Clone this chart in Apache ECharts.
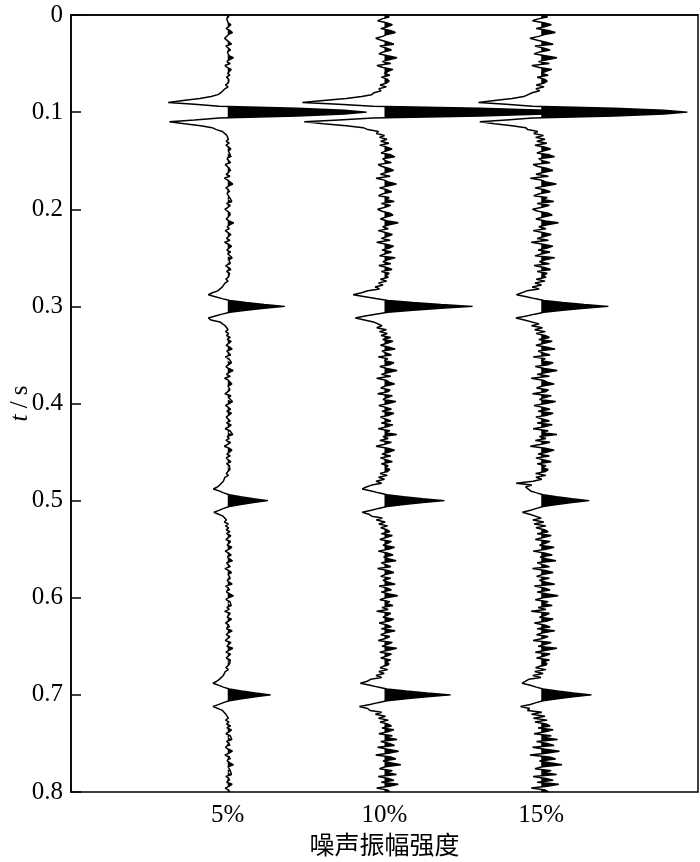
<!DOCTYPE html>
<html><head><meta charset="utf-8">
<script src="https://cdn.jsdelivr.net/npm/echarts@6/dist/echarts.min.js"></script>
<style>html,body{margin:0;padding:0;background:#fff}#c{width:700px;height:862px}</style>
</head><body><div id="c"></div>
<script>
// sample interval of the traces (s)
const sampleInterval = 0.002;
// trace baselines on the x axis (noise level, %)
const traceOffsets = [5, 10, 15];
const xTickLabels = ['5%', '10%', '15%'];

// trace amplitudes (x-axis units), one value per sample from t = 0 to 0.8 s
const trace5 = [
0.02,0.06,-0.03,-0.08,0.01,0.10,0.04,-0.05,0.07,0.15,
0.03,-0.02,-0.10,-0.04,0.05,0.12,-0.06,0.02,0.09,-0.01,
-0.07,0.04,0.18,0.06,-0.03,0.08,-0.09,-0.02,0.11,0.05,
0.00,0.07,-0.04,0.03,0.06,0.02,-0.07,0.01,-0.09,-0.10,
-0.22,-0.31,-0.53,-0.89,-1.42,-1.90,-1.06,-0.27,2.22,3.72,
4.43,3.72,2.22,-0.27,-1.06,-1.86,-1.38,-0.86,-0.50,-0.36,
-0.17,-0.15,-0.03,-0.08,0.02,-0.05,0.05,-0.06,0.03,0.10,
0.02,-0.04,0.08,0.14,-0.02,0.01,0.09,-0.08,-0.03,0.06,
0.12,0.03,-0.05,0.07,-0.11,0.00,0.05,0.16,0.04,-0.06,
0.03,0.09,-0.02,-0.07,0.06,0.02,0.13,-0.04,0.08,0.01,
-0.09,-0.03,0.07,0.11,0.02,-0.05,0.04,0.19,0.06,-0.02,
0.05,-0.08,0.01,0.10,0.03,-0.04,0.07,-0.10,0.02,0.12,
0.06,-0.03,0.09,0.00,-0.06,0.14,0.04,-0.02,0.08,-0.07,
0.03,0.10,-0.04,0.06,0.02,0.02,-0.06,0.01,-0.09,-0.06,
-0.17,-0.13,-0.32,-0.49,-0.62,-0.40,-0.18,0.07,0.58,1.16,
1.82,1.16,0.58,0.07,-0.18,-0.40,-0.62,-0.54,-0.25,-0.23,
-0.08,-0.13,0.01,-0.07,0.03,-0.04,0.08,-0.02,0.11,0.03,
-0.05,0.06,0.14,-0.03,0.02,0.09,-0.08,0.04,0.00,0.12,
0.07,-0.06,0.03,0.17,0.05,-0.04,0.08,-0.10,0.02,0.06,
0.13,0.01,-0.05,0.07,0.04,-0.09,0.10,0.03,-0.02,0.15,
0.05,-0.07,0.02,0.09,-0.03,0.12,0.06,-0.05,0.01,0.08,
-0.04,0.11,0.03,-0.08,0.07,0.02,0.16,-0.02,0.05,-0.06,
0.09,0.00,-0.11,0.04,0.13,0.06,-0.03,0.08,-0.05,0.02,
0.10,-0.04,0.05,0.01,0.07,0.03,-0.05,0.02,-0.09,-0.03,
-0.14,-0.09,-0.26,-0.33,-0.46,-0.28,-0.13,0.05,0.41,0.82,
1.28,0.82,0.41,0.05,-0.13,-0.28,-0.44,-0.40,-0.15,-0.17,
-0.04,-0.11,0.02,-0.07,0.03,-0.05,0.07,-0.04,0.10,0.02,
-0.06,0.09,0.04,-0.02,0.13,0.05,-0.08,0.03,0.11,-0.01,
0.06,0.15,-0.04,0.02,0.08,-0.09,0.04,0.12,0.01,-0.05,
0.08,-0.02,0.05,0.14,-0.07,0.03,0.09,-0.04,0.06,0.18,
0.02,-0.06,0.07,0.01,0.11,-0.03,0.05,-0.10,0.08,0.04,
-0.02,0.12,0.06,-0.07,0.03,0.09,-0.04,0.14,0.02,-0.05,
0.07,0.01,-0.08,0.10,0.04,-0.03,0.16,0.05,-0.06,0.09,
0.03,-0.05,0.08,0.02,0.06,0.04,-0.06,0.02,-0.08,-0.03,
-0.14,-0.09,-0.27,-0.35,-0.47,-0.30,-0.14,0.05,0.44,0.88,
1.37,0.88,0.44,0.05,-0.14,-0.30,-0.47,-0.42,-0.17,-0.19,
-0.06,-0.12,0.02,-0.07,0.04,-0.04,0.09,-0.03,0.12,0.04,
-0.06,0.08,0.02,0.13,-0.04,0.05,0.10,-0.07,0.03,0.15,
0.04,-0.09,0.06,0.11,-0.02,0.07,0.18,0.01,-0.05,0.08,
0.02,0.12,-0.06,0.04,0.09,-0.03,0.14,0.05,-0.08,0.03,
0.06];

const trace10 = [
0.04,0.15,-0.08,-0.22,0.06,0.25,0.10,-0.12,0.18,0.35,
0.08,-0.06,-0.28,-0.10,0.12,0.30,-0.15,0.05,0.22,-0.04,
-0.18,0.10,0.40,0.14,-0.07,0.20,-0.24,-0.05,0.27,0.12,
0.00,0.17,-0.10,0.08,0.15,0.07,-0.14,0.06,-0.18,-0.11,
-0.33,-0.41,-0.73,-1.22,-1.95,-2.62,-1.46,-0.37,3.05,5.12,
6.10,5.12,3.05,-0.37,-1.46,-2.56,-1.95,-1.22,-0.68,-0.53,
-0.19,-0.26,0.00,-0.16,0.08,-0.12,0.14,-0.15,0.07,0.24,
0.05,-0.11,0.20,0.33,-0.06,0.03,0.22,-0.20,-0.08,0.15,
0.29,0.07,-0.13,0.18,-0.27,0.00,0.12,0.38,0.10,-0.16,
0.08,0.23,-0.05,-0.19,0.15,0.05,0.31,-0.10,0.20,0.02,
-0.22,-0.08,0.17,0.27,0.05,-0.13,0.10,0.44,0.15,-0.06,
0.12,-0.20,0.03,0.25,0.08,-0.10,0.18,-0.25,0.05,0.29,
0.15,-0.08,0.22,0.00,-0.16,0.34,0.10,-0.05,0.20,-0.18,
0.07,0.24,-0.10,0.15,0.05,0.12,-0.13,0.07,-0.19,-0.05,
-0.30,-0.16,-0.53,-0.73,-1.00,-0.62,-0.28,0.11,0.90,1.80,
2.81,1.80,0.90,0.11,-0.28,-0.62,-0.93,-0.87,-0.35,-0.40,
-0.08,-0.25,0.06,-0.16,0.09,-0.11,0.20,-0.06,0.27,0.08,
-0.13,0.15,0.34,-0.08,0.05,0.22,-0.20,0.10,0.00,0.30,
0.17,-0.15,0.08,0.40,0.12,-0.10,0.20,-0.25,0.05,0.15,
0.32,0.03,-0.12,0.18,0.10,-0.22,0.25,0.07,-0.05,0.36,
0.12,-0.18,0.05,0.22,-0.08,0.30,0.15,-0.13,0.03,0.20,
-0.10,0.27,0.08,-0.20,0.17,0.05,0.39,-0.05,0.12,-0.15,
0.22,0.00,-0.27,0.10,0.32,0.15,-0.08,0.20,-0.13,0.05,
0.25,-0.10,0.12,0.03,0.17,0.10,-0.14,0.09,-0.19,0.00,
-0.27,-0.09,-0.41,-0.58,-0.71,-0.42,-0.19,0.08,0.61,1.22,
1.91,1.22,0.61,0.08,-0.19,-0.42,-0.71,-0.50,-0.41,-0.07,
-0.26,0.02,-0.18,0.10,-0.12,0.08,0.17,-0.10,0.25,0.05,
-0.15,0.22,0.10,-0.05,0.32,0.12,-0.20,0.08,0.27,-0.03,
0.15,0.37,-0.10,0.05,0.20,-0.22,0.10,0.30,0.03,-0.12,
0.20,-0.05,0.12,0.34,-0.17,0.08,0.22,-0.10,0.15,0.42,
0.05,-0.15,0.17,0.03,0.27,-0.08,0.12,-0.25,0.20,0.10,
-0.05,0.30,0.15,-0.17,0.08,0.22,-0.10,0.34,0.05,-0.12,
0.17,0.03,-0.20,0.25,0.10,-0.08,0.39,0.12,-0.15,0.22,
0.08,-0.12,0.20,0.05,0.15,0.12,-0.14,0.10,-0.18,-0.01,
-0.27,-0.09,-0.44,-0.55,-0.77,-0.46,-0.21,0.08,0.68,1.35,
2.11,1.35,0.68,0.08,-0.21,-0.46,-0.80,-0.54,-0.46,-0.09,
-0.29,0.03,-0.19,0.12,-0.14,0.10,0.22,-0.08,0.30,0.10,
-0.18,0.25,0.05,0.40,-0.12,0.15,0.32,-0.22,0.10,0.45,
0.12,-0.28,0.20,0.36,-0.05,0.22,0.52,0.03,-0.16,0.25,
0.05,0.38,-0.20,0.12,0.30,-0.10,0.44,0.15,-0.25,0.10,
0.18];

const trace15 = [
0.05,0.20,-0.10,-0.28,0.08,0.32,0.12,-0.16,0.23,0.45,
0.10,-0.08,-0.36,-0.12,0.15,0.38,-0.20,0.06,0.28,-0.05,
-0.23,0.13,0.50,0.18,-0.09,0.26,-0.30,-0.06,0.34,0.15,
0.00,0.22,-0.13,0.10,0.19,0.10,-0.16,0.09,-0.17,-0.05,
-0.29,-0.29,-0.56,-0.93,-1.49,-2.00,-1.12,-0.28,2.33,3.91,
4.66,3.91,2.33,-0.28,-1.12,-1.96,-1.49,-0.93,-0.50,-0.43,
-0.11,-0.24,0.07,-0.18,0.12,-0.14,0.18,-0.20,0.09,0.30,
0.06,-0.14,0.26,0.42,-0.08,0.04,0.28,-0.26,-0.10,0.19,
0.37,0.09,-0.17,0.23,-0.35,0.00,0.15,0.48,0.13,-0.20,
0.10,0.29,-0.06,-0.24,0.19,0.06,0.40,-0.13,0.26,0.03,
-0.28,-0.10,0.22,0.35,0.06,-0.17,0.13,0.55,0.19,-0.08,
0.15,-0.26,0.04,0.32,0.10,-0.13,0.23,-0.32,0.06,0.37,
0.19,-0.10,0.28,0.00,-0.20,0.43,0.13,-0.06,0.26,-0.23,
0.09,0.30,-0.13,0.19,0.06,0.15,-0.16,0.12,-0.20,0.01,
-0.29,-0.07,-0.46,-0.52,-0.79,-0.47,-0.21,0.09,0.68,1.37,
2.14,1.37,0.68,0.09,-0.21,-0.47,-0.81,-0.54,-0.48,-0.07,
-0.31,0.04,-0.21,0.13,-0.16,0.12,0.26,-0.08,0.35,0.10,
-0.17,0.19,0.44,-0.10,0.06,0.28,-0.26,0.13,0.00,0.38,
0.22,-0.19,0.10,0.51,0.15,-0.13,0.26,-0.32,0.06,0.19,
0.41,0.04,-0.15,0.23,0.13,-0.28,0.32,0.09,-0.06,0.46,
0.15,-0.23,0.06,0.28,-0.10,0.38,0.19,-0.17,0.04,0.26,
-0.13,0.35,0.10,-0.26,0.22,0.06,0.50,-0.06,0.15,-0.19,
0.28,0.00,-0.35,0.13,0.41,0.19,-0.10,0.26,-0.17,0.06,
0.32,-0.13,0.15,0.04,0.22,0.14,-0.18,0.15,-0.17,0.02,
-0.26,-0.80,-0.30,-0.50,-0.55,-0.34,-0.15,0.06,0.49,0.98,
1.53,0.98,0.49,0.06,-0.15,-0.34,-0.60,-0.37,-0.40,0.00,
-0.27,0.08,-0.23,0.15,-0.17,0.10,0.22,-0.13,0.32,0.06,
-0.19,0.28,0.13,-0.06,0.41,0.15,-0.26,0.10,0.35,-0.04,
0.19,0.47,-0.13,0.06,0.26,-0.28,0.13,0.38,0.04,-0.15,
0.26,-0.06,0.15,0.43,-0.22,0.10,0.28,-0.13,0.19,0.54,
0.06,-0.19,0.22,0.04,0.35,-0.10,0.15,-0.32,0.26,0.13,
-0.06,0.38,0.19,-0.22,0.10,0.28,-0.13,0.43,0.06,-0.15,
0.22,0.04,-0.26,0.32,0.13,-0.10,0.50,0.15,-0.19,0.28,
0.10,-0.15,0.26,0.06,0.19,0.16,-0.18,0.15,-0.21,0.06,
-0.27,-0.01,-0.40,-0.40,-0.61,-0.35,-0.16,0.06,0.51,1.02,
1.60,1.02,0.51,0.06,-0.16,-0.35,-0.66,-0.37,-0.44,0.02,
-0.31,0.12,-0.25,0.19,-0.20,0.15,0.28,-0.10,0.38,0.13,
-0.23,0.32,0.06,0.52,-0.15,0.19,0.41,-0.28,0.13,0.58,
0.15,-0.36,0.26,0.46,-0.06,0.28,0.66,0.04,-0.20,0.32,
0.06,0.49,-0.26,0.15,0.38,-0.13,0.56,0.19,-0.32,0.13,
0.23];

const traces = [trace5, trace10, trace15];

function toPoints(vals, base) {
  return vals.map((v, i) => [base + v, Math.round(i * sampleInterval * 1000) / 1000]);
}

// positive-lobe fill (variable area) between the trace and its baseline
function fillRenderer(base) {
  return function (params, api) {
    if (params.dataIndexInside !== 0) return null;
    const n = params.dataInsideLength;
    const pts = [api.coord([base, api.value(1, 0)])];
    let prevA = null, prevT = null;
    for (let i = 0; i < n; i++) {
      const a = api.value(0, i) - base;
      const t = api.value(1, i);
      if (prevA !== null && ((prevA > 1e-9) !== (a > 1e-9))) {
        const tc = prevT + (t - prevT) * (0 - prevA) / (a - prevA);
        pts.push(api.coord([base, tc]));
      }
      if (a > 1e-9) pts.push(api.coord([base + a, t]));
      prevA = a; prevT = t;
    }
    pts.push(api.coord([base, prevT]));
    return { type: 'polygon', shape: { points: pts }, style: { fill: '#000' } };
  };
}

const series = [];
traces.forEach((vals, k) => {
  const base = traceOffsets[k];
  const data = toPoints(vals, base);
  series.push({
    type: 'custom', name: xTickLabels[k] + ' fill', data: data,
    encode: { x: 0, y: 1 }, renderItem: fillRenderer(base), silent: true, z: 2 + 2 * k
  });
  series.push({
    type: 'line', name: xTickLabels[k], data: data, showSymbol: false, symbol: 'none',
    lineStyle: { color: '#000', width: 1.5 }, silent: true, z: 3 + 2 * k
  });
});

const serif = 'Liberation Serif';
const axisLineStyle = { color: '#000', width: 1.5 };
const chart = echarts.init(document.getElementById('c'), null, { renderer: 'canvas' });
chart.setOption({
  animation: false,
  backgroundColor: '#fff',
  grid: { left: 71, right: 2, top: 15, bottom: 70, show: true, borderColor: '#000', borderWidth: 1.5,
          backgroundColor: 'transparent', containLabel: false, outerBoundsMode: 'none' },
  xAxis: {
    type: 'value', min: 0, max: 20, interval: 5,
    axisLine: { show: true, lineStyle: axisLineStyle },
    axisTick: { show: false }, splitLine: { show: false },
    axisLabel: {
      color: '#000', fontFamily: serif, fontSize: 25, margin: 11,
      formatter: function (v) { const k = traceOffsets.indexOf(v); return k >= 0 ? xTickLabels[k] : ''; }
    },
    name: '噪声振幅强度', nameLocation: 'middle', nameGap: 40, nameMoveOverlap: false,
    nameTextStyle: { color: '#000', fontFamily: 'Noto Sans CJK SC', fontSize: 25 }
  },
  yAxis: {
    type: 'value', inverse: true, min: 0, max: 0.8, interval: 0.1,
    axisLine: { show: true, lineStyle: axisLineStyle },
    axisTick: { show: true, inside: true, length: 10, lineStyle: axisLineStyle },
    splitLine: { show: false },
    axisLabel: { color: '#000', fontFamily: serif, fontSize: 25, margin: 8 },
    name: '{i|t} / s', nameLocation: 'middle', nameRotate: 90, nameGap: 38, nameMoveOverlap: false,
    nameTextStyle: {
      color: '#000', fontFamily: serif, fontSize: 25,
      rich: { i: { fontStyle: 'italic', fontFamily: serif, fontSize: 25, color: '#000' } }
    }
  },
  series: series
});
</script>
</body></html>
